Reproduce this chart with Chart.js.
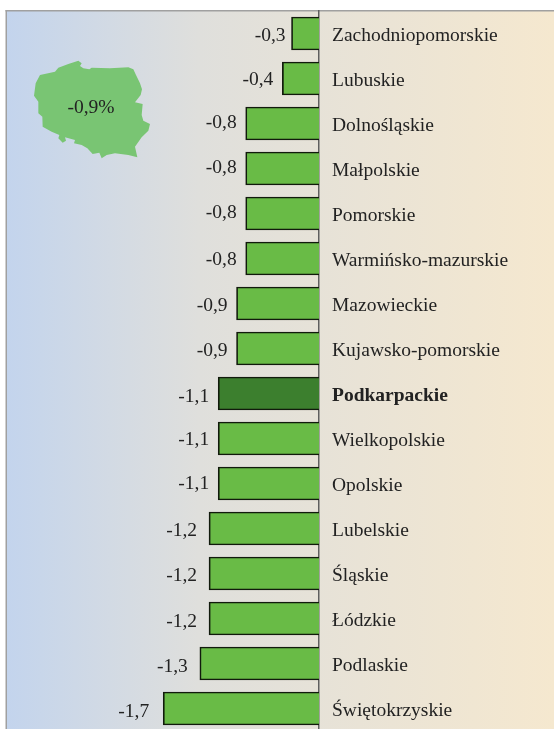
<!DOCTYPE html>
<html><head><meta charset="utf-8">
<style>html,body{margin:0;padding:0;background:#fff;overflow:hidden;width:554px;height:729px}
#w{position:relative;width:554px;height:760px}canvas{display:block}</style>
<script src="https://cdn.jsdelivr.net/npm/chart.js@4"></script></head>
<body><div id="w"><canvas id="c" width="554" height="760"></canvas></div>
<script>
const regions=["Zachodniopomorskie","Lubuskie","Dolnośląskie","Małpolskie","Pomorskie","Warmińsko-mazurskie","Mazowieckie","Kujawsko-pomorskie","Podkarpackie","Wielkopolskie","Opolskie","Lubelskie","Śląskie","Łódzkie","Podlaskie","Świętokrzyskie"];
const values=[-0.3,-0.4,-0.8,-0.8,-0.8,-0.8,-0.9,-0.9,-1.1,-1.1,-1.1,-1.2,-1.2,-1.2,-1.3,-1.7];
const highlighted="Podkarpackie";
const nationalLabel="-0,9%";
const labelGapX=[6,9,9,9,9,9,9,9,9,9,9,12,12,12,12,14];
const labelNudgeY=[2,1,-1,-1,-1,1,2,2,3,1,0,2,2,3,3,3];
const mapOutline=[[235,182],[245,190],[240,198],[250,205],[268,208],[275,203],[330,205],[385,202],[400,208],[408,225],[420,250],[426,268],[422,285],[405,307],[428,312],[425,345],[430,362],[450,372],[445,392],[425,412],[405,440],[412,472],[385,465],[345,460],[320,465],[305,475],[298,458],[278,462],[262,445],[245,435],[222,430],[225,420],[195,412],[198,422],[188,428],[175,415],[178,405],[155,395],[128,380],[127,350],[115,340],[115,305],[102,287],[107,250],[120,225],[165,215],[175,203],[205,192]];
const serif='"Liberation Serif"';
const deco={id:'deco',
 beforeDraw(ch){const {ctx,chartArea:a}=ch;ctx.save();
  const g=ctx.createLinearGradient(a.left,0,ch.width,0);
  g.addColorStop(0,'#c3d4ed');g.addColorStop(0.35,'#dfdfdc');g.addColorStop(1,'#f5e8cf');
  ctx.fillStyle=g;ctx.fillRect(a.left,a.top,ch.width-a.left,ch.height-a.top);
  ctx.fillStyle='#a0a0a0';ctx.fillRect(a.left-1,a.top-1,ch.width-a.left+1,1.5);ctx.fillRect(a.left-1,a.top-1,1.5,ch.height);
  ctx.fillStyle='#79c573';ctx.beginPath();
  mapOutline.forEach((p,i)=>i?ctx.lineTo(p[0]/3,p[1]/3):ctx.moveTo(p[0]/3,p[1]/3));
  ctx.closePath();ctx.fill();
  ctx.fillStyle='#222';ctx.font='19.5px '+serif;ctx.textAlign='center';ctx.textBaseline='middle';
  ctx.fillText(nationalLabel,91,108);ctx.restore();},
 afterDatasetsDraw(ch){const {ctx}=ch;const m=ch.getDatasetMeta(0);ctx.save();
  ctx.fillStyle='#222';ctx.font='19.5px '+serif;ctx.textAlign='right';ctx.textBaseline='middle';
  values.forEach((v,i)=>{ctx.fillText(v.toFixed(1).replace('.',','),m.data[i].x-labelGapX[i],m.data[i].y+labelNudgeY[i]);});
  ctx.restore();}
};
new Chart(document.getElementById('c'),{type:'bar',
 data:{labels:regions,datasets:[{data:values,
  backgroundColor:regions.map(r=>r===highlighted?'#3c7f2e':'#69bb46'),
  borderColor:'#111a0c',borderWidth:1.7,barThickness:33}]},
 plugins:[deco],
 options:{indexAxis:'y',responsive:false,animation:false,
  layout:{padding:{left:6.5,top:11,right:0,bottom:29}},
  plugins:{legend:{display:false},tooltip:{enabled:false}},
  scales:{
   x:{display:false,min:-3.41,max:0},
   y:{position:'right',
    afterFit(s){s.width=235;s.paddingTop=0;s.paddingBottom=0;},
    grid:{display:false,drawTicks:false},
    border:{display:true,color:'#5f5f5f',width:1.5},
    ticks:{padding:13,color:'#222',labelOffset:2,
     font:c=>({family:serif,size:19.5,weight:regions[c.index]===highlighted?'bold':'normal'})}}
  }}});
</script></body></html>
